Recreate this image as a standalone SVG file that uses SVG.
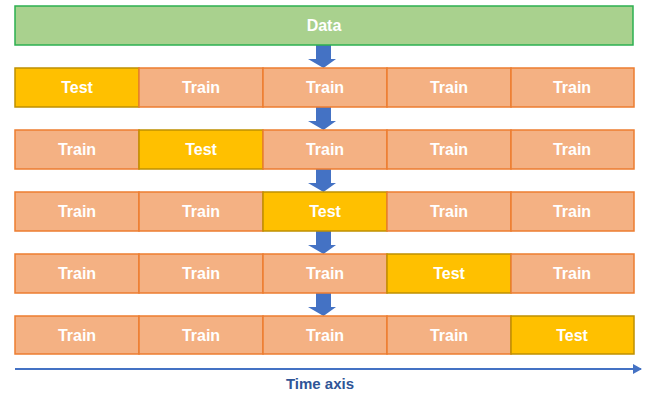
<svg xmlns="http://www.w3.org/2000/svg" width="651" height="396" viewBox="0 0 651 396">
<style>
.tr{fill:#F4B183;stroke:#ED7D31;stroke-width:1.5}
.te{fill:#FFC000;stroke:#BF9000;stroke-width:1.5}
.da{fill:#A9D18E;stroke:#2DB050;stroke-width:1.5}
text{font-family:"Liberation Sans",Arial,sans-serif;font-weight:bold;font-size:16px;fill:#fff;text-anchor:middle}
.ax{fill:#2F5597;font-size:15px}
.arr{fill:#4472C4}
</style>
<defs>
<marker id="ah" markerWidth="10" markerHeight="10" refX="8" refY="5" orient="auto" markerUnits="userSpaceOnUse">
<path d="M0,0 L9,5 L0,10 z" fill="#4472C4"/>
</marker>
</defs>
<g id="connectors">
<path class="arr" d="M316,44 H331 V59 H336 L323.5,68 L308,59 H316 z"/>
<path class="arr" d="M316,107 H331 V121 H336 L323.5,130 L308,121 H316 z"/>
<path class="arr" d="M316,169 H331 V183 H336 L323.5,192 L308,183 H316 z"/>
<path class="arr" d="M316,231 H331 V245 H336 L323.5,254 L308,245 H316 z"/>
<path class="arr" d="M316,293 H331 V307 H336 L323.5,316 L308,307 H316 z"/>
<line x1="15" y1="369" x2="641" y2="369" stroke="#4472C4" stroke-width="2" marker-end="url(#ah)"/>
</g>
<g id="data"><rect class="da" x="15" y="6" width="618" height="39"/><text x="324" y="31">Data</text></g>
<g id="row1">
<rect class="te" x="15" y="68" width="124" height="39"/><text x="77" y="93">Test</text>
<rect class="tr" x="139" y="68" width="124" height="39"/><text x="201" y="93">Train</text>
<rect class="tr" x="263" y="68" width="124" height="39"/><text x="325" y="93">Train</text>
<rect class="tr" x="387" y="68" width="124" height="39"/><text x="449" y="93">Train</text>
<rect class="tr" x="511" y="68" width="123" height="39"/><text x="572" y="93">Train</text>
</g>
<g id="row2">
<rect class="tr" x="15" y="130" width="124" height="39"/><text x="77" y="155">Train</text>
<rect class="te" x="139" y="130" width="124" height="39"/><text x="201" y="155">Test</text>
<rect class="tr" x="263" y="130" width="124" height="39"/><text x="325" y="155">Train</text>
<rect class="tr" x="387" y="130" width="124" height="39"/><text x="449" y="155">Train</text>
<rect class="tr" x="511" y="130" width="123" height="39"/><text x="572" y="155">Train</text>
</g>
<g id="row3">
<rect class="tr" x="15" y="192" width="124" height="39"/><text x="77" y="217">Train</text>
<rect class="tr" x="139" y="192" width="124" height="39"/><text x="201" y="217">Train</text>
<rect class="te" x="263" y="192" width="124" height="39"/><text x="325" y="217">Test</text>
<rect class="tr" x="387" y="192" width="124" height="39"/><text x="449" y="217">Train</text>
<rect class="tr" x="511" y="192" width="123" height="39"/><text x="572" y="217">Train</text>
</g>
<g id="row4">
<rect class="tr" x="15" y="254" width="124" height="39"/><text x="77" y="279">Train</text>
<rect class="tr" x="139" y="254" width="124" height="39"/><text x="201" y="279">Train</text>
<rect class="tr" x="263" y="254" width="124" height="39"/><text x="325" y="279">Train</text>
<rect class="te" x="387" y="254" width="124" height="39"/><text x="449" y="279">Test</text>
<rect class="tr" x="511" y="254" width="123" height="39"/><text x="572" y="279">Train</text>
</g>
<g id="row5">
<rect class="tr" x="15" y="316" width="124" height="38"/><text x="77" y="341">Train</text>
<rect class="tr" x="139" y="316" width="124" height="38"/><text x="201" y="341">Train</text>
<rect class="tr" x="263" y="316" width="124" height="38"/><text x="325" y="341">Train</text>
<rect class="tr" x="387" y="316" width="124" height="38"/><text x="449" y="341">Train</text>
<rect class="te" x="511" y="316" width="123" height="38"/><text x="572" y="341">Test</text>
</g>
<g id="axis-label"><text class="ax" x="320" y="389">Time axis</text></g>
</svg>
